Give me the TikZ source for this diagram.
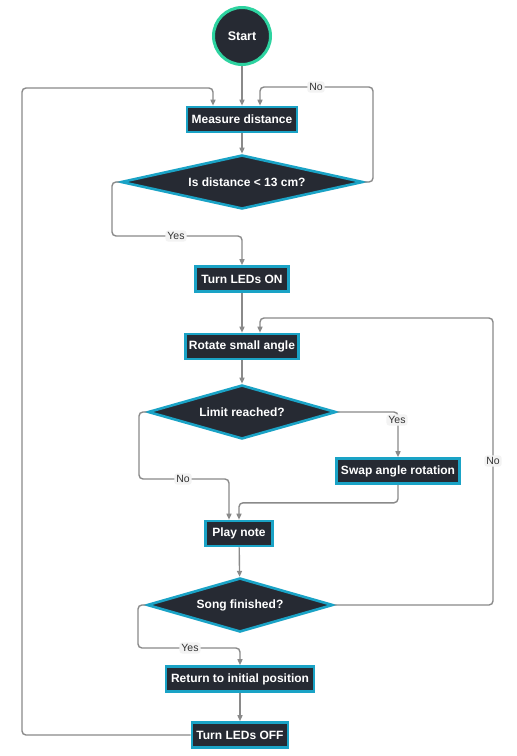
\documentclass[tikz,border=0pt]{standalone}
\usepackage{fontspec}
\setmainfont{Liberation Sans}
\usetikzlibrary{shapes.geometric,arrows.meta}
\definecolor{darkfill}{HTML}{262A33}
\definecolor{cyanb}{HTML}{1AA3C6}
\definecolor{greenb}{HTML}{2DD3A0}
\definecolor{conncol}{HTML}{8A8A8A}
\definecolor{lblbg}{HTML}{F3F3F3}
\definecolor{lbltext}{HTML}{333333}
\tikzset{
  procbox/.style={draw=cyanb, line width=2.6pt, fill=darkfill, text=white,
    font=\bfseries\fontsize{12}{14}\selectfont, inner sep=0pt, minimum height=25pt},
  decis/.style={diamond, draw=cyanb, line width=2.6pt, fill=darkfill, text=white,
    font=\bfseries\fontsize{12}{14}\selectfont, inner sep=0pt, aspect=4},
  startnode/.style={circle, draw=greenb, line width=3pt, fill=darkfill, text=white,
    font=\bfseries\fontsize{12.5}{14}\selectfont, minimum size=57pt, inner sep=0pt},
  conn/.style={draw=conncol, line width=1.4pt, rounded corners=4pt,
    -{Triangle[length=6pt,width=5pt]}},
  lbl/.style={fill=lblbg, text=lbltext, font=\fontsize{10.5}{12}\selectfont,
    inner sep=2pt, rounded corners=3pt}
}
\begin{document}
\begin{tikzpicture}[x=1pt,y=-1pt]
\useasboundingbox (0,0) rectangle (517,756);
\fill[white] (0,0) rectangle (517,756);

\node[startnode] (start) at (242,36) {Start};
\node[procbox, minimum width=110pt] (md) at (242,119.5) {Measure distance};
\node[decis, minimum width=242pt, minimum height=54pt] (d1) at (242,182) {\hspace*{10pt}Is distance < 13 cm?};
\node[procbox, minimum width=93pt] (on) at (242,279) {Turn LEDs ON};
\node[procbox, minimum width=113pt] (rot) at (242,346.5) {Rotate small angle};
\node[decis, minimum width=188pt, minimum height=54pt] (d2) at (242,412) {Limit reached?};
\node[procbox, minimum width=123pt] (swap) at (398,471) {Swap angle rotation};
\node[procbox, minimum width=67pt] (play) at (239,533.5) {Play note};
\node[decis, minimum width=186pt, minimum height=54pt] (d3) at (240,605) {Song finished?};
\node[procbox, minimum width=148pt] (ret) at (240,679) {Return to initial position};
\node[procbox, minimum width=96pt] (off) at (240,735) {Turn LEDs OFF};

% connectors
\draw[conn] (start) -- (md);
\draw[conn] (md) -- (d1);
\draw[conn] (off.west) -| (22,88) -| ([xshift=-29pt]md.north);
\draw[conn] (d1.east) -| (373,87) -| ([xshift=18pt]md.north);
\draw[conn] (d1.west) -| (112,236) -| (on.north);
\draw[conn] (on) -- (rot);
\draw[conn] (rot) -- (d2);
\draw[conn] (d2.east) -| (swap.north);
\draw[conn] (d2.west) -| (139,479) -| ([xshift=-10pt]play.north);
\draw[conn] (swap.south) -- ++(0,18) -| (play.north);
\draw[conn] (play) -- (d3);
\draw[conn] (d3.west) -| (138,648) -| (ret.north);
\draw[conn] (ret) -- (off);
\draw[conn] (d3.east) -| (493,318) -| ([xshift=18pt]rot.north);

% labels
\node[lbl] (lno1) at (316,87) {No};
\node[lbl] (lyes1) at (176,236) {Yes};
\node[lbl] (lyes2) at (397,420) {Yes};
\node[lbl] (lno2) at (183,479) {No};
\node[lbl] (lyes3) at (190,648) {Yes};
\node[lbl] (lno3) at (493,461) {No};
\end{tikzpicture}
\end{document}
